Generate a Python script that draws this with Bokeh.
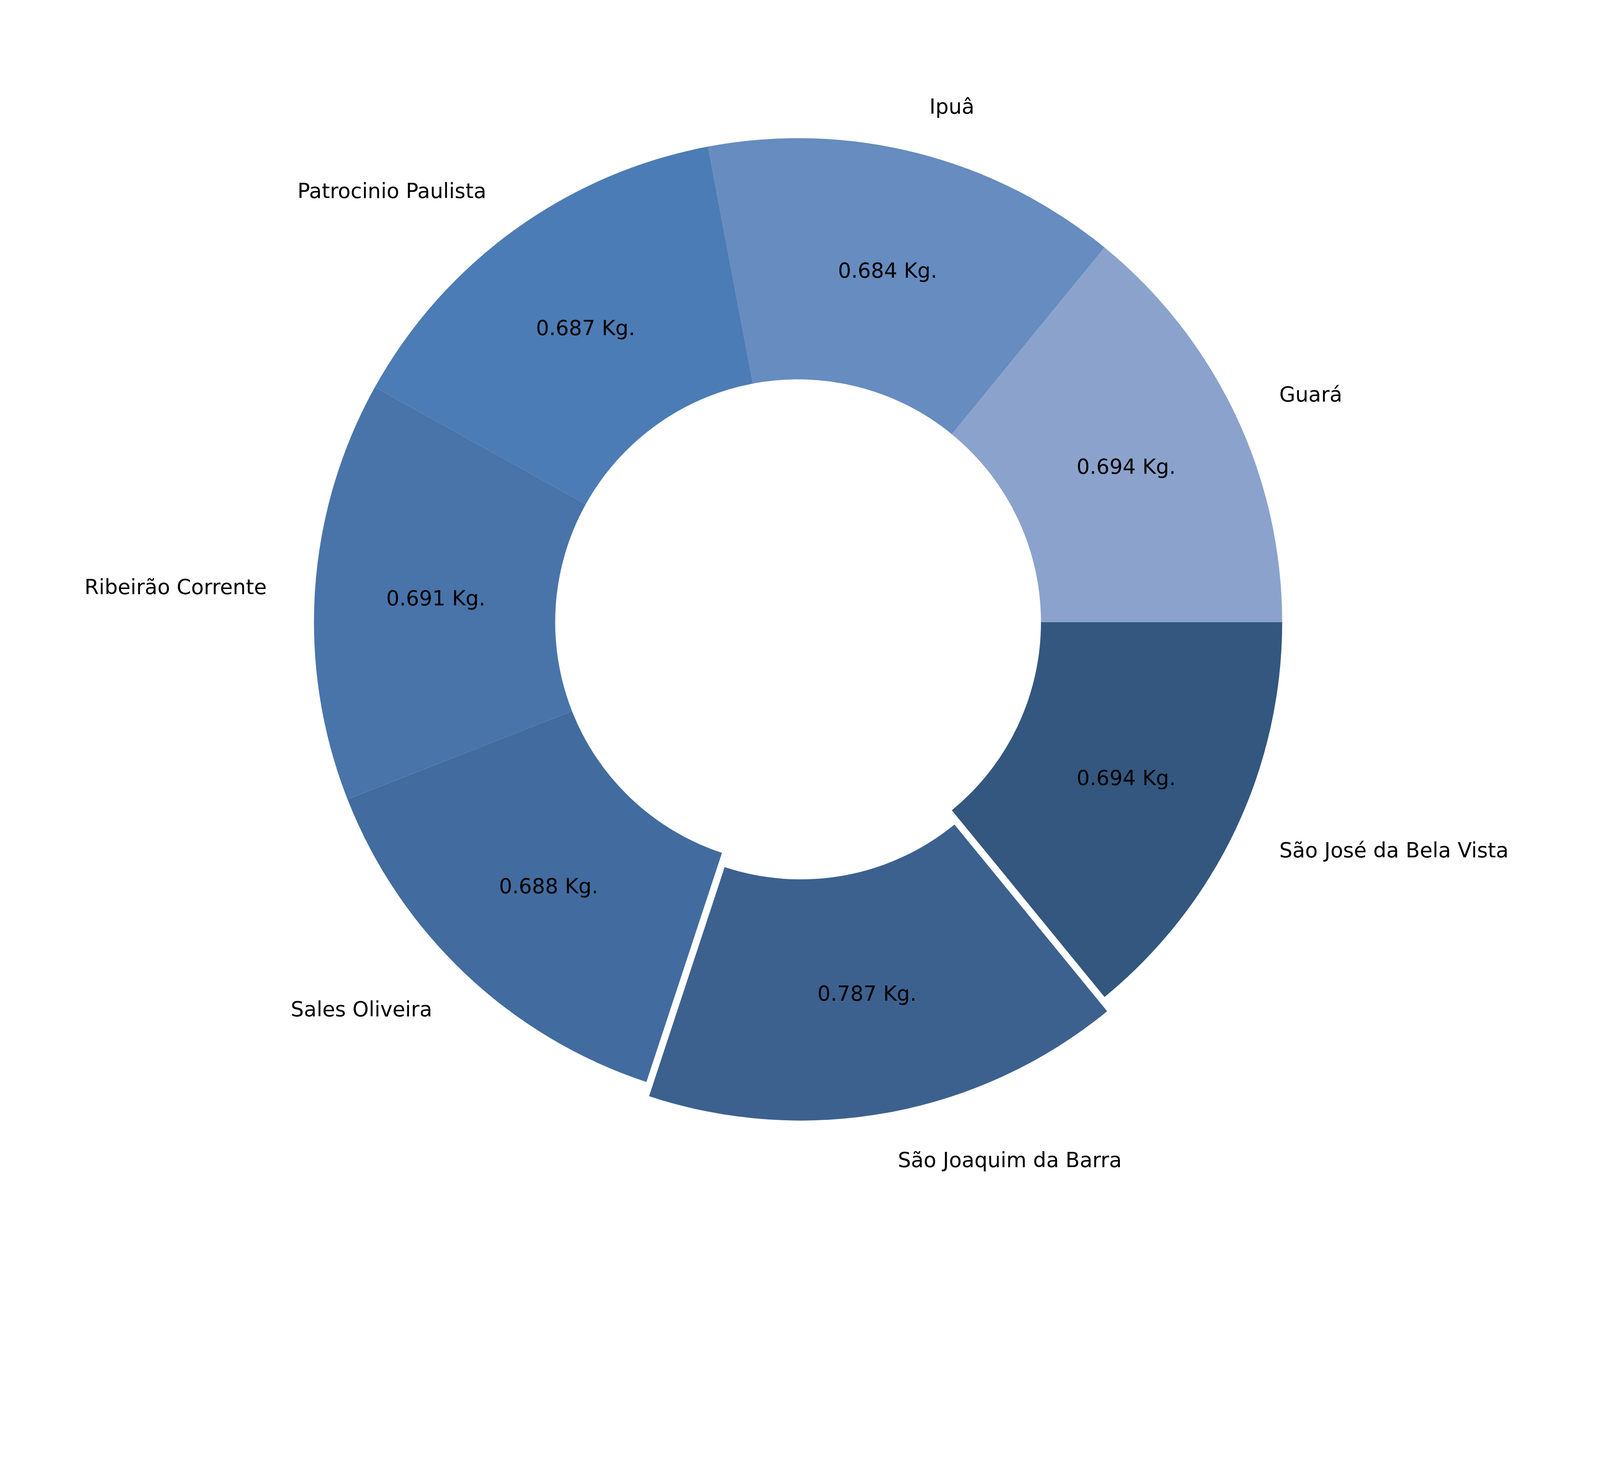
import numpy as np
from bokeh.plotting import figure
from bokeh.models import ColumnDataSource
from bokeh.core.properties import value
from bokeh.embed import file_html
from bokeh.resources import INLINE

# data
cities = ['Guará', 'Ipuâ', 'Patrocinio Paulista', 'Ribeirão Corrente',
          'Sales Oliveira', 'São Joaquim da Barra', 'São José da Bela Vista']
weights = [0.694, 0.684, 0.687, 0.691, 0.688, 0.787, 0.694]
explode = [0, 0, 0, 0, 0, 0.03, 0]
colors = ['#8ba3cc', '#668cc0', '#4c7cb5', '#4874aa', '#426c9f', '#3c618f', '#33577f']

W, H = 4790, 3720
scale = 1 / 1.174
cx, cy = 2398, H - 1870
r_out, r_in = 1455, 730

vals = np.array(weights)
ang = np.cumsum(np.concatenate([[0], vals])) / vals.sum() * 2 * np.pi
start, end = ang[:-1], ang[1:]
mid = (start + end) / 2
ex = np.array(explode) * r_out
xs = cx + ex * np.cos(mid)
ys = cy + ex * np.sin(mid)

src = ColumnDataSource(dict(
    x=xs, y=ys, start=start, end=end, color=colors,
    px=xs + 0.75 * r_out * np.cos(mid), py=ys + 0.75 * r_out * np.sin(mid),
    pct=['%.3f Kg.' % v for v in weights],
))

p = figure(width=int(W * scale), height=int(H * scale), x_range=(0, W), y_range=(0, H),
           output_backend="svg", toolbar_location=None, min_border=0)
p.axis.visible = False
p.grid.visible = False
p.outline_line_color = None

p.annular_wedge(x='x', y='y', inner_radius=r_in, outer_radius=r_out,
                start_angle='start', end_angle='end', fill_color='color',
                line_color=None, source=src)

fs = '%dpx' % round(62 * scale)
p.text(x='px', y='py', text='pct', source=src, text_align='center',
       text_baseline='middle', text_font_size=fs, text_color='black',
       text_font=value("DejaVu Sans"))

lx = xs + 1.1 * r_out * np.cos(mid)
ly = ys + 1.1 * r_out * np.sin(mid)
right = np.cos(mid) >= 0
for side, align in [(right, 'left'), (~right, 'right')]:
    p.text(x=lx[side], y=ly[side], text=[c for c, s in zip(cities, side) if s],
           text_align=align, text_baseline='middle', text_font_size=fs,
           text_color='black', text_font=value("DejaVu Sans"))

open("out.html", "w").write(file_html(p, INLINE))
